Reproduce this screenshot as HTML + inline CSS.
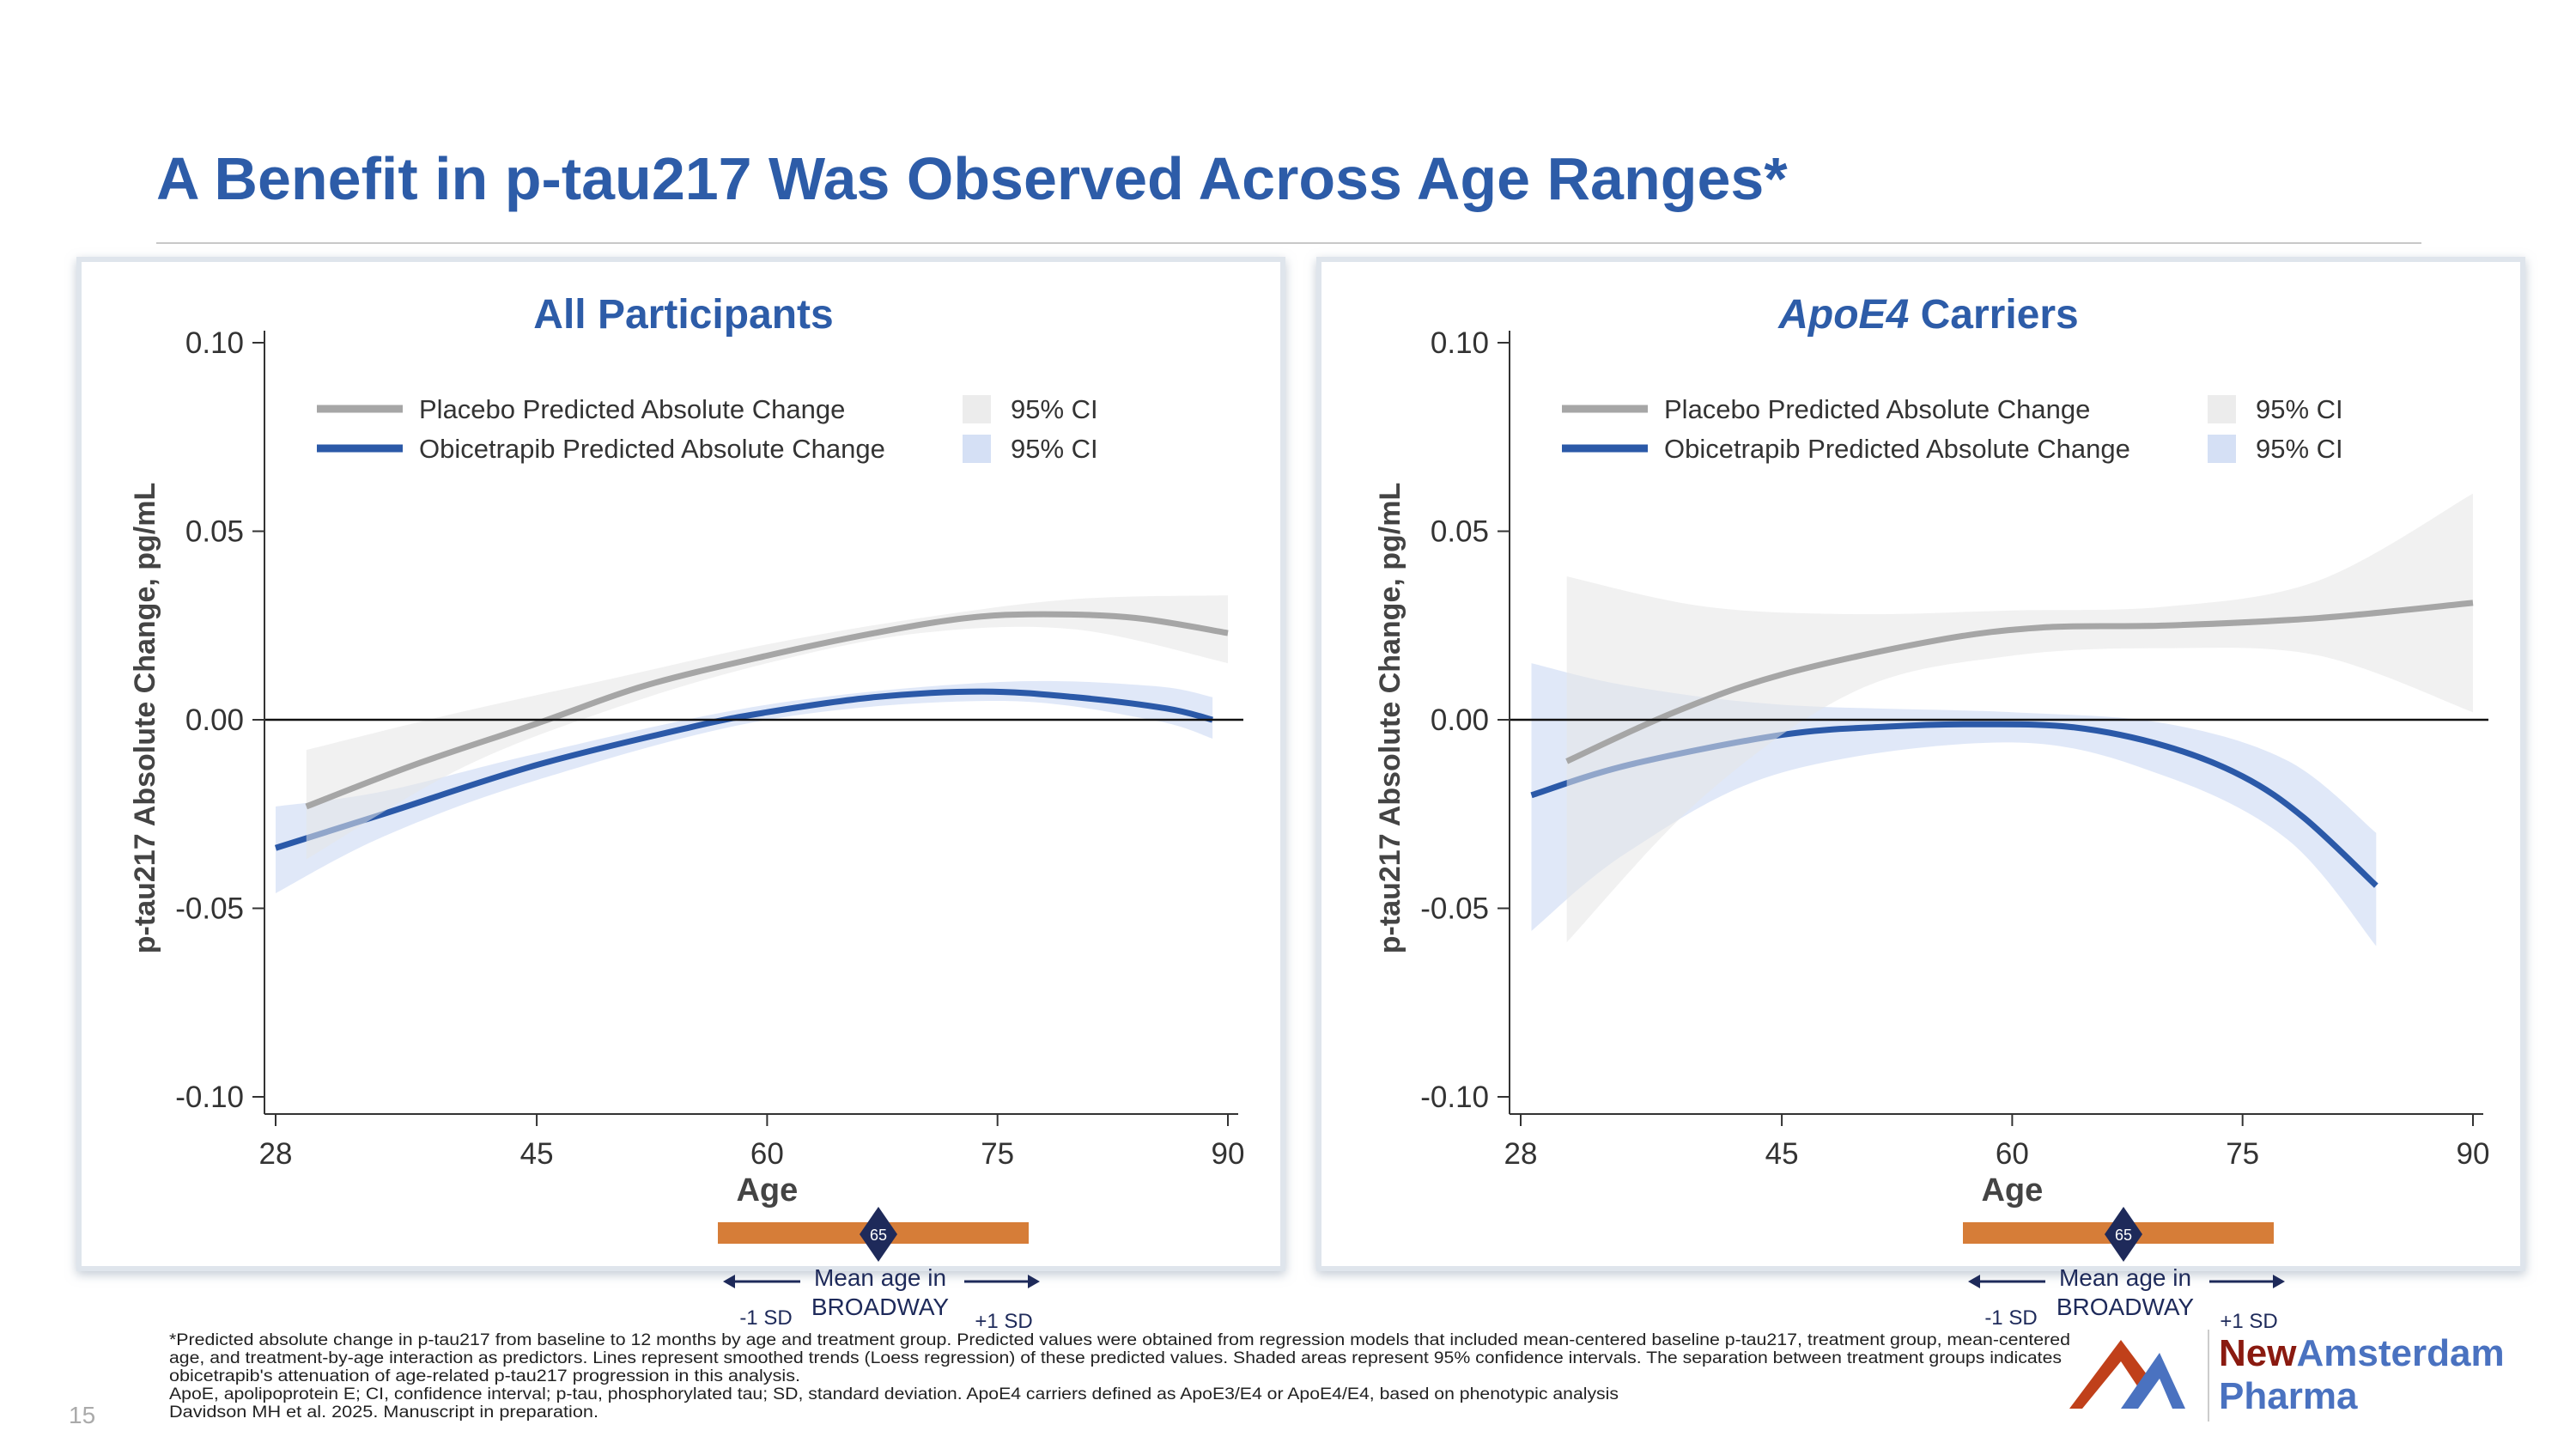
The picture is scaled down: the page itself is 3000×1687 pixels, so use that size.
<!DOCTYPE html>
<html><head><meta charset="utf-8"><style>
html,body{margin:0;padding:0;background:#fff}
svg{display:block}
text{font-family:"Liberation Sans",sans-serif}
</style></head><body>
<svg id="s" width="3000" height="1687" viewBox="0 0 3000 1687" xmlns="http://www.w3.org/2000/svg">
<defs><filter id="sh" x="-5%" y="-5%" width="110%" height="110%"><feDropShadow dx="0" dy="4" stdDeviation="6" flood-color="#9aa7b8" flood-opacity="0.6"/></filter></defs>
<text x="182" y="232" font-size="70" font-weight="bold" fill="#2d5ca8">A Benefit in p-tau217 Was Observed Across Age Ranges*</text>
<line x1="182" y1="283" x2="2820" y2="283" stroke="#c8c8c8" stroke-width="2"/>
<g id="panels"></g>
<text x="197" y="1566" font-size="19" fill="#222">
<tspan x="197" y="1566" textLength="2214" lengthAdjust="spacingAndGlyphs">*Predicted absolute change in p-tau217 from baseline to 12 months by age and treatment group. Predicted values were obtained from regression models that included mean-centered baseline p-tau217, treatment group, mean-centered</tspan>
<tspan x="197" y="1587" textLength="2204" lengthAdjust="spacingAndGlyphs">age, and treatment-by-age interaction as predictors. Lines represent smoothed trends (Loess regression) of these predicted values. Shaded areas represent 95% confidence intervals. The separation between treatment groups indicates</tspan>
<tspan x="197" y="1608" textLength="735" lengthAdjust="spacingAndGlyphs">obicetrapib's attenuation of age-related p-tau217 progression in this analysis.</tspan>
<tspan x="197" y="1629" textLength="1688" lengthAdjust="spacingAndGlyphs">ApoE, apolipoprotein E; CI, confidence interval; p-tau, phosphorylated tau; SD, standard deviation. ApoE4 carriers defined as ApoE3/E4 or ApoE4/E4, based on phenotypic analysis</tspan>
<tspan x="197" y="1650" textLength="500" lengthAdjust="spacingAndGlyphs">Davidson MH et al. 2025. Manuscript in preparation.</tspan>
</text>
<text x="80" y="1657" font-size="28" fill="#aaa">15</text>
<g>
<path d="M2410 1640 L2470 1560 L2500 1600 L2490 1615 L2470 1585 L2425 1640 Z" fill="#c0401a"/>
<path d="M2470 1640 L2515 1575 L2545 1640 L2530 1640 L2515 1605 L2490 1640 Z" fill="#4a72c0"/>
<line x1="2572" y1="1548" x2="2572" y2="1655" stroke="#ccc" stroke-width="2"/>
<text x="2584" y="1590" font-size="44" font-weight="bold" fill="#8a1a10">New<tspan fill="#4a72c0">Amsterdam</tspan></text>
<text x="2584" y="1640" font-size="44" font-weight="bold" fill="#4a72c0">Pharma</text>
</g>
</svg>
<script>
// Age axis categories / ticks
const xTicks = [28, 45, 60, 75, 90];
const yTicks = [0.10, 0.05, 0.00, -0.05, -0.10];
const yTickLabels = ["0.10", "0.05", "0.00", "-0.05", "-0.10"];
// All participants
const allPlaceboAge = [30, 37, 45, 52, 60, 67, 73, 78, 84, 90];
const allPlaceboVal = [-0.023, -0.012, -0.001, 0.009, 0.017, 0.023, 0.027, 0.028, 0.027, 0.023];
const allPlaceboCiAge = [30, 40, 50, 60, 70, 80, 90];
const allPlaceboLo = [-0.037, -0.013, 0.003, 0.015, 0.023, 0.024, 0.015];
const allPlaceboHi = [-0.008, 0.002, 0.011, 0.020, 0.027, 0.032, 0.033];
const allObiAge = [28, 35, 45, 55, 60, 67, 74, 80, 86, 89];
const allObiVal = [-0.034, -0.025, -0.012, -0.002, 0.002, 0.006, 0.0075, 0.006, 0.003, 0.000];
const allObiCiAge = [28, 35, 45, 60, 75, 85, 89];
const allObiLo = [-0.046, -0.031, -0.016, 0.000, 0.005, 0.000, -0.005];
const allObiHi = [-0.023, -0.019, -0.009, 0.004, 0.010, 0.009, 0.006];
// ApoE4 carriers
const e4PlaceboAge = [31, 38, 45, 55, 62, 70, 80, 90];
const e4PlaceboVal = [-0.011, 0.002, 0.012, 0.021, 0.0245, 0.025, 0.027, 0.031];
const e4PlaceboCiAge = [31, 40, 50, 60, 70, 80, 90];
const e4PlaceboLo = [-0.059, -0.020, 0.008, 0.017, 0.019, 0.017, 0.002];
const e4PlaceboHi = [0.038, 0.030, 0.028, 0.029, 0.030, 0.037, 0.060];
const e4ObiAge = [28.7, 35, 45, 52, 58, 64, 70, 75, 79, 83.7];
const e4ObiVal = [-0.020, -0.012, -0.004, -0.0018, -0.0012, -0.002, -0.007, -0.015, -0.026, -0.044];
const e4ObiCiAge = [28.7, 35, 45, 60, 70, 78, 83.7];
const e4ObiLo = [-0.056, -0.035, -0.014, -0.006, -0.015, -0.032, -0.060];
const e4ObiHi = [0.015, 0.009, 0.004, 0.002, -0.001, -0.011, -0.030];

const NS = "http://www.w3.org/2000/svg";
const root = document.getElementById('panels');
function mk(tag, attrs, parent) {
  const e = document.createElementNS(NS, tag);
  for (const k in attrs) e.setAttribute(k, attrs[k]);
  parent.appendChild(e);
  return e;
}
function smooth(pts) {
  let d = "M" + pts[0][0] + " " + pts[0][1];
  for (let i = 0; i < pts.length - 1; i++) {
    const p0 = pts[Math.max(0, i - 1)], p1 = pts[i], p2 = pts[i + 1], p3 = pts[Math.min(pts.length - 1, i + 2)];
    const c1 = [p1[0] + (p2[0] - p0[0]) / 6, p1[1] + (p2[1] - p0[1]) / 6];
    const c2 = [p2[0] - (p3[0] - p1[0]) / 6, p2[1] - (p3[1] - p1[1]) / 6];
    d += " C" + c1[0] + " " + c1[1] + " " + c2[0] + " " + c2[1] + " " + p2[0] + " " + p2[1];
  }
  return d;
}
function panel(off, boxOff, titleMain, italic, d) {
  const g = mk('g', {}, root);
  
  
  const box = mk('rect', {x: 92 + boxOff, y: 302, width: 1402, height: 1175, fill: '#fff', stroke: '#dfe5ec', 'stroke-width': 6, filter: 'url(#sh)'}, g);
  
  
  const X = a => 321 + off + (a - 28) * (1109 / 62);
  const Y = v => 838 - v * 4390;
  const t = mk('text', {x: 796 + off, y: 382, 'font-size': 48, 'font-weight': 'bold', fill: '#2d5ca8', 'text-anchor': 'middle'}, g);
  
  
  if (italic) { const s = mk('tspan', {'font-style': 'italic'}, t); s.textContent = 'ApoE4'; const s2 = mk('tspan', {}, t); s2.textContent = ' Carriers'; }
  else t.textContent = titleMain;
  function band(ages, lo, hi, fill, op, name) {
    const up = ages.map((a, i) => [X(a), Y(hi[i])]);
    const dn = ages.map((a, i) => [X(a), Y(lo[i])]).reverse();
    let p = smooth(up) + " L" + dn[0][0] + " " + dn[0][1] + smooth(dn).replace(/^M[^C]*/, ' ') + " Z";
    const e = mk('path', {d: p, fill: fill, 'fill-opacity': op}, g);
    
    
  }
  function line(ages, vals, col, name) {
    const e = mk('path', {d: smooth(ages.map((a, i) => [X(a), Y(vals[i])])), fill: 'none', stroke: col, 'stroke-width': 7}, g);
    
    
  }
  band(d.oca, d.olo, d.ohi, '#d5e0f5', 0.75, 'obicetrapib-ci-band');
  line(d.oa, d.ov, '#2b59a8', 'obicetrapib-line');
  band(d.pca, d.plo, d.phi, '#e6e6e6', 0.55, 'placebo-ci-band');
  line(d.pa, d.pv, '#a6a6a6', 'placebo-line');
  const z = mk('line', {x1: 308 + off, x2: 1448 + off, y1: Y(0), y2: Y(0), stroke: '#111', 'stroke-width': 2.5}, g);
  
  
  const ya = mk('line', {x1: 308 + off, x2: 308 + off, y1: 385, y2: 1297, stroke: '#333', 'stroke-width': 2}, g);
  
  
  const xa = mk('line', {x1: 308 + off, x2: 1442 + off, y1: 1297, y2: 1297, stroke: '#333', 'stroke-width': 2}, g);
  
  
  yTicks.forEach((v, i) => {
    mk('line', {x1: 294 + off, x2: 308 + off, y1: Y(v), y2: Y(v), stroke: '#333', 'stroke-width': 2}, g);
    const tl = mk('text', {x: 284 + off, y: Y(v) + 12, 'font-size': 35, fill: '#333', 'text-anchor': 'end'}, g);
    tl.textContent = yTickLabels[i];
    
    
  });
  xTicks.forEach(a => {
    mk('line', {x1: X(a), x2: X(a), y1: 1297, y2: 1311, stroke: '#333', 'stroke-width': 2}, g);
    const tl = mk('text', {x: X(a), y: 1355, 'font-size': 35, fill: '#333', 'text-anchor': 'middle'}, g);
    tl.textContent = a;
    
    
  });
  const xt = mk('text', {x: X(60), y: 1398, 'font-size': 38, 'font-weight': 'bold', fill: '#444', 'text-anchor': 'middle'}, g);
  xt.textContent = 'Age';
  
  
  const yt = mk('text', {x: 0, y: 0, 'font-size': 34, 'font-weight': 'bold', fill: '#444', 'text-anchor': 'middle', transform: 'translate(' + (180 + off) + ',836) rotate(-90)'}, g);
  yt.textContent = 'p-tau217 Absolute Change, pg/mL';
  
  
  const lg = mk('g', {}, g);
  
  
  mk('line', {x1: 369 + off, x2: 469 + off, y1: 476, y2: 476, stroke: '#a6a6a6', 'stroke-width': 9}, lg);
  mk('line', {x1: 369 + off, x2: 469 + off, y1: 522, y2: 522, stroke: '#2b59a8', 'stroke-width': 9}, lg);
  mk('rect', {x: 1121 + off, y: 460, width: 33, height: 33, fill: '#ececec'}, lg);
  mk('rect', {x: 1121 + off, y: 506, width: 33, height: 33, fill: '#d5e0f5'}, lg);
  [['Placebo Predicted Absolute Change', 488, 487], ['Obicetrapib Predicted Absolute Change', 488, 533], ['95% CI', 1177, 487], ['95% CI', 1177, 533]].forEach(r => {
    const e = mk('text', {x: r[1] + off, y: r[2], 'font-size': 31, fill: '#333'}, lg);
    e.textContent = r[0];
    
    
  });
  const rb = mk('g', {}, g);
  
  
  mk('rect', {x: 836 + off, y: 1423, width: 362, height: 25, fill: '#d67d38'}, rb);
  const cx = 1023 + off;
  mk('path', {d: 'M' + cx + ' 1405 L' + (cx + 22) + ' 1437 L' + cx + ' 1469 L' + (cx - 22) + ' 1437 Z', fill: '#1e2a5a'}, rb);
  const n = mk('text', {x: cx, y: 1444, 'font-size': 18, fill: '#fff', 'text-anchor': 'middle'}, rb); n.textContent = '65';
  const m1 = mk('text', {x: cx + 2, y: 1497, 'font-size': 28, fill: '#1e2a5a', 'text-anchor': 'middle'}, rb); m1.textContent = 'Mean age in';
  const m2 = mk('text', {x: cx + 2, y: 1531, 'font-size': 28, fill: '#1e2a5a', 'text-anchor': 'middle'}, rb); m2.textContent = 'BROADWAY';
  mk('line', {x1: 850 + off, x2: 932 + off, y1: 1492, y2: 1492, stroke: '#1e2a5a', 'stroke-width': 3}, rb);
  mk('path', {d: 'M' + (842 + off) + ' 1492 l14 -8 l0 16 z', fill: '#1e2a5a'}, rb);
  mk('line', {x1: 1123 + off, x2: 1203 + off, y1: 1492, y2: 1492, stroke: '#1e2a5a', 'stroke-width': 3}, rb);
  mk('path', {d: 'M' + (1211 + off) + ' 1492 l-14 -8 l0 16 z', fill: '#1e2a5a'}, rb);
  const s1 = mk('text', {x: 892 + off, y: 1542, 'font-size': 24, fill: '#1e2a5a', 'text-anchor': 'middle'}, rb); s1.textContent = '-1 SD';
  const s2 = mk('text', {x: 1169 + off, y: 1546, 'font-size': 24, fill: '#1e2a5a', 'text-anchor': 'middle'}, rb); s2.textContent = '+1 SD';
}
panel(0, 0, 'All Participants', false, {pa: allPlaceboAge, pv: allPlaceboVal, pca: allPlaceboCiAge, plo: allPlaceboLo, phi: allPlaceboHi, oa: allObiAge, ov: allObiVal, oca: allObiCiAge, olo: allObiLo, ohi: allObiHi});
panel(1450, 1444, 'ApoE4 Carriers', true, {pa: e4PlaceboAge, pv: e4PlaceboVal, pca: e4PlaceboCiAge, plo: e4PlaceboLo, phi: e4PlaceboHi, oa: e4ObiAge, ov: e4ObiVal, oca: e4ObiCiAge, olo: e4ObiLo, ohi: e4ObiHi});
</script>
</body></html>
